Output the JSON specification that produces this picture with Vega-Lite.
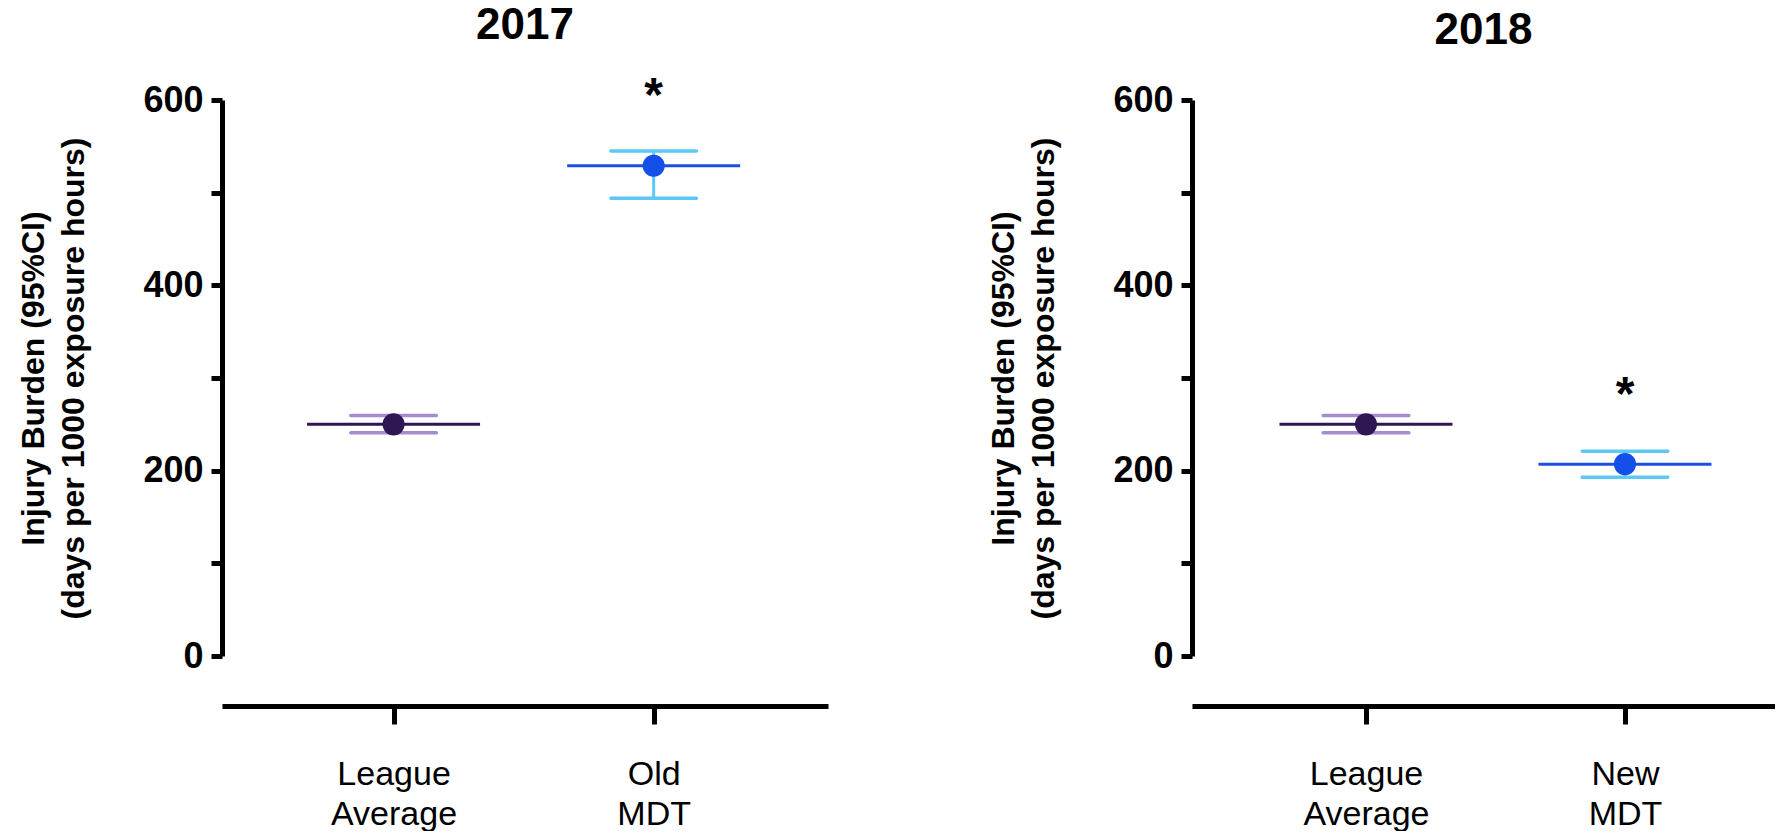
{
  "$schema": "https://vega.github.io/schema/vega-lite/v6.json",
  "padding": {"left": 17, "top": 4, "right": 0, "bottom": 0},
  "background": "white",
  "data": {"values": [
    {"year": "2017", "group": "League Average", "kind": "league", "mean": 250, "lo": 241, "hi": 259.5, "star": null},
    {"year": "2017", "group": "Old MDT", "kind": "team", "mean": 529, "lo": 494, "hi": 545, "star": 588},
    {"year": "2018", "group": "League Average", "kind": "league", "mean": 250, "lo": 241, "hi": 259.5, "star": null},
    {"year": "2018", "group": "New MDT", "kind": "team", "mean": 207, "lo": 193, "hi": 221, "star": 265}
  ]},
  "spacing": 159,
  "hconcat": [
    {
      "width": 606, "height": 556,
      "title": {"text": "2017", "offset": 25},
      "transform": [{"filter": "datum.year == '2017'"}],
      "encoding": {"x": {"field": "group", "type": "nominal", "sort": null, "scale": {"type": "point", "padding": 0.665, "align": 0.496}, "axis": {"labelExpr": "split(datum.label, ' ')", "title": null}}},
      "layer": [
        {"mark": {"type": "rule", "strokeWidth": 3, "opacity": 1},
         "encoding": {"y": {"field": "lo", "type": "quantitative", "scale": {"domain": [0, 600], "nice": false}, "title": ["Injury Burden (95%CI)", "(days per 1000 exposure hours)"], "axis": {"values": [0, 100, 200, 300, 400, 500, 600], "labelExpr": "datum.value % 200 == 0 ? datum.label : ''"}},
                      "y2": {"field": "hi"},
                      "color": {"condition": {"test": "datum.kind == 'league'", "value": "#A68BD0"}, "value": "#5BC8F5"}}},
        {"mark": {"type": "tick", "size": 89, "thickness": 3.5, "cornerRadius": 1.7, "opacity": 1},
         "encoding": {"y": {"field": "lo", "type": "quantitative", "title": ["Injury Burden (95%CI)", "(days per 1000 exposure hours)"], "axis": {"values": [0, 100, 200, 300, 400, 500, 600], "labelExpr": "datum.value % 200 == 0 ? datum.label : ''"}},
                      "color": {"condition": {"test": "datum.kind == 'league'", "value": "#A68BD0"}, "value": "#5BC8F5"}}},
        {"mark": {"type": "tick", "size": 89, "thickness": 3.5, "cornerRadius": 1.7, "opacity": 1},
         "encoding": {"y": {"field": "hi", "type": "quantitative", "title": ["Injury Burden (95%CI)", "(days per 1000 exposure hours)"], "axis": {"values": [0, 100, 200, 300, 400, 500, 600], "labelExpr": "datum.value % 200 == 0 ? datum.label : ''"}},
                      "color": {"condition": {"test": "datum.kind == 'league'", "value": "#A68BD0"}, "value": "#5BC8F5"}}},
        {"mark": {"type": "tick", "size": 173, "thickness": 3, "opacity": 1},
         "encoding": {"y": {"field": "mean", "type": "quantitative", "title": ["Injury Burden (95%CI)", "(days per 1000 exposure hours)"], "axis": {"values": [0, 100, 200, 300, 400, 500, 600], "labelExpr": "datum.value % 200 == 0 ? datum.label : ''"}},
                      "color": {"condition": {"test": "datum.kind == 'league'", "value": "#2E1752"}, "value": "#1B4FE0"}}},
        {"mark": {"type": "point", "filled": true, "size": 490, "opacity": 1},
         "encoding": {"y": {"field": "mean", "type": "quantitative", "title": ["Injury Burden (95%CI)", "(days per 1000 exposure hours)"], "axis": {"values": [0, 100, 200, 300, 400, 500, 600], "labelExpr": "datum.value % 200 == 0 ? datum.label : ''"}},
                      "color": {"condition": {"test": "datum.kind == 'league'", "value": "#2E1752"}, "value": "#1450E8"}}},
        {"transform": [{"filter": "datum.star != null"}],
         "mark": {"type": "text", "text": "*", "fontSize": 48, "fontWeight": "bold", "font": "Liberation Sans", "baseline": "alphabetic", "color": "black"},
         "encoding": {"y": {"field": "star", "type": "quantitative", "title": ["Injury Burden (95%CI)", "(days per 1000 exposure hours)"], "axis": {"values": [0, 100, 200, 300, 400, 500, 600], "labelExpr": "datum.value % 200 == 0 ? datum.label : ''"}}}}
      ]
    },
    {
      "width": 583, "height": 556,
      "title": {"text": "2018", "offset": 29},
      "transform": [{"filter": "datum.year == '2018'"}],
      "encoding": {"x": {"field": "group", "type": "nominal", "sort": null, "scale": {"type": "point", "padding": 0.6255, "align": 0.537}, "axis": {"labelExpr": "split(datum.label, ' ')", "title": null}}},
      "layer": [
        {"mark": {"type": "rule", "strokeWidth": 3, "opacity": 1},
         "encoding": {"y": {"field": "lo", "type": "quantitative", "scale": {"domain": [0, 600], "nice": false}, "title": ["Injury Burden (95%CI)", "(days per 1000 exposure hours)"], "axis": {"values": [0, 100, 200, 300, 400, 500, 600], "labelExpr": "datum.value % 200 == 0 ? datum.label : ''"}},
                      "y2": {"field": "hi"},
                      "color": {"condition": {"test": "datum.kind == 'league'", "value": "#A68BD0"}, "value": "#5BC8F5"}}},
        {"mark": {"type": "tick", "size": 89, "thickness": 3.5, "cornerRadius": 1.7, "opacity": 1},
         "encoding": {"y": {"field": "lo", "type": "quantitative", "title": ["Injury Burden (95%CI)", "(days per 1000 exposure hours)"], "axis": {"values": [0, 100, 200, 300, 400, 500, 600], "labelExpr": "datum.value % 200 == 0 ? datum.label : ''"}},
                      "color": {"condition": {"test": "datum.kind == 'league'", "value": "#A68BD0"}, "value": "#5BC8F5"}}},
        {"mark": {"type": "tick", "size": 89, "thickness": 3.5, "cornerRadius": 1.7, "opacity": 1},
         "encoding": {"y": {"field": "hi", "type": "quantitative", "title": ["Injury Burden (95%CI)", "(days per 1000 exposure hours)"], "axis": {"values": [0, 100, 200, 300, 400, 500, 600], "labelExpr": "datum.value % 200 == 0 ? datum.label : ''"}},
                      "color": {"condition": {"test": "datum.kind == 'league'", "value": "#A68BD0"}, "value": "#5BC8F5"}}},
        {"mark": {"type": "tick", "size": 173, "thickness": 3, "opacity": 1},
         "encoding": {"y": {"field": "mean", "type": "quantitative", "title": ["Injury Burden (95%CI)", "(days per 1000 exposure hours)"], "axis": {"values": [0, 100, 200, 300, 400, 500, 600], "labelExpr": "datum.value % 200 == 0 ? datum.label : ''"}},
                      "color": {"condition": {"test": "datum.kind == 'league'", "value": "#2E1752"}, "value": "#1B4FE0"}}},
        {"mark": {"type": "point", "filled": true, "size": 490, "opacity": 1},
         "encoding": {"y": {"field": "mean", "type": "quantitative", "title": ["Injury Burden (95%CI)", "(days per 1000 exposure hours)"], "axis": {"values": [0, 100, 200, 300, 400, 500, 600], "labelExpr": "datum.value % 200 == 0 ? datum.label : ''"}},
                      "color": {"condition": {"test": "datum.kind == 'league'", "value": "#2E1752"}, "value": "#1450E8"}}},
        {"transform": [{"filter": "datum.star != null"}],
         "mark": {"type": "text", "text": "*", "fontSize": 48, "fontWeight": "bold", "font": "Liberation Sans", "baseline": "alphabetic", "color": "black"},
         "encoding": {"y": {"field": "star", "type": "quantitative", "title": ["Injury Burden (95%CI)", "(days per 1000 exposure hours)"], "axis": {"values": [0, 100, 200, 300, 400, 500, 600], "labelExpr": "datum.value % 200 == 0 ? datum.label : ''"}}}}
      ]
    }
  ],
  "config": {
    "view": {"stroke": null},
    "title": {"font": "Liberation Sans", "fontSize": 44, "fontWeight": "bold", "color": "black", "anchor": "middle"},
    "axis": {"grid": false, "domainColor": "black", "tickColor": "black", "labelColor": "black", "titleColor": "black", "labelFont": "Liberation Sans", "titleFont": "Liberation Sans"},
    "axisY": {"domainWidth": 5, "tickWidth": 5, "tickSize": 11, "labelFontSize": 36, "labelFontWeight": "bold", "labelPadding": 8, "titleFontSize": 32, "titleFontWeight": "bold", "titleLineHeight": 40, "titlePadding": 52},
    "axisX": {"offset": 50, "domainWidth": 5, "tickWidth": 5, "tickSize": 18, "labelFontSize": 34, "labelFontWeight": "normal", "labelPadding": 33, "labelLineHeight": 40, "labelAngle": 0, "labelOverlap": false, "labelBound": false}
  }
}
